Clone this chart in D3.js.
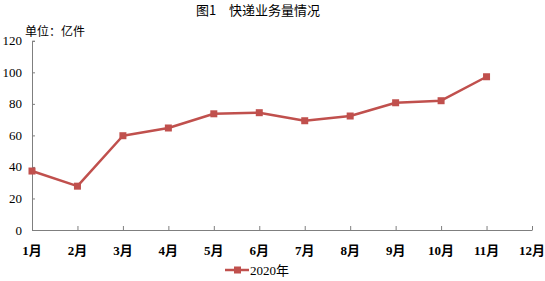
<!DOCTYPE html>
<html>
<head>
<meta charset="utf-8">
<script src="https://cdn.jsdelivr.net/npm/d3@7"></script>
<style>
  body { margin: 0; background: #fff; }
  svg { display: block; }
</style>
</head>
<body>
<svg id="chart" width="545" height="281"></svg>
<script>
// Express delivery volume, 2020, unit: 100 million pieces.
var months = ["1月", "2月", "3月", "4月", "5月", "6月", "7月", "8月", "9月", "10月", "11月", "12月"];
var volume2020 = [37.4, 27.8, 59.8, 64.7, 73.7, 74.4, 69.3, 72.3, 80.7, 82.0, 97.2];
var yTicks = [0, 20, 40, 60, 80, 100, 120];
var seriesName = "2020年";

var svg = d3.select("#chart");
var red = "#c0504d";
var serif = "'Liberation Serif', 'Noto Sans CJK SC', serif";

var x = d3.scalePoint().domain(months).range([32, 532]);
var y = d3.scaleLinear().domain([0, 120]).range([230, 40.8]);

// Title and unit label.
svg.append("text")
    .attr("x", 258).attr("y", 10.5)
    .attr("dy", "0.35em")
    .attr("text-anchor", "middle")
    .style("font-family", "'Noto Sans CJK SC', sans-serif")
    .style("font-size", "13px")
    .text("图1　快递业务量情况");

svg.append("text")
    .attr("x", 25).attr("y", 36)
    .style("font-family", "'Noto Sans CJK SC', serif")
    .style("font-size", "12px")
    .text("单位：亿件");

// Axes: ticks point into the plot.
var yAxis = svg.append("g")
    .attr("transform", "translate(32,0)")
    .call(d3.axisRight(y).tickValues(yTicks).tickSize(3).tickFormat(""));
var xAxis = svg.append("g")
    .attr("transform", "translate(0,230)")
    .call(d3.axisTop(x).tickSize(4).tickFormat("").tickSizeOuter(0));
[yAxis, xAxis].forEach(function (g) {
    g.select(".domain").attr("stroke", "#7f7f7f");
    g.selectAll(".tick line").attr("stroke", "#7f7f7f");
});
// Hide the tick at the origin on the x axis.
xAxis.selectAll(".tick").filter(function (d) { return d === months[0]; }).remove();

svg.append("g").selectAll("text")
    .data(yTicks)
    .join("text")
    .attr("x", 22)
    .attr("y", function (d) { return y(d); })
    .attr("dy", "0.35em")
    .attr("text-anchor", "end")
    .style("font-family", serif)
    .style("font-size", "13px")
    .text(function (d) { return d; });

svg.append("g").selectAll("text")
    .data(months)
    .join("text")
    .attr("x", function (d) { return x(d); })
    .attr("y", 255)
    .attr("text-anchor", "middle")
    .style("font-family", serif)
    .style("font-size", "13px")
    .style("font-weight", "bold")
    .text(function (d) { return d; });

// Series line and square markers.
var pts = volume2020.map(function (v, i) { return [x(months[i]), y(v)]; });
svg.append("path")
    .attr("d", d3.line()(pts))
    .attr("fill", "none")
    .attr("stroke", red)
    .attr("stroke-width", 2.5)
    .attr("stroke-linejoin", "round");
svg.append("g").selectAll("rect")
    .data(pts)
    .join("rect")
    .attr("x", function (p) { return p[0] - 3.5; })
    .attr("y", function (p) { return p[1] - 3.5; })
    .attr("width", 7).attr("height", 7)
    .attr("fill", red);

// Legend.
var legend = svg.append("g").attr("transform", "translate(225,270)");
legend.append("line")
    .attr("x1", 0).attr("x2", 24)
    .attr("stroke", red).attr("stroke-width", 2.5);
legend.append("rect")
    .attr("x", 9).attr("y", -3.5).attr("width", 7).attr("height", 7)
    .attr("fill", red);
legend.append("text")
    .attr("x", 25).attr("y", 0).attr("dy", "0.35em")
    .style("font-family", serif)
    .style("font-size", "13px")
    .text(seriesName);
</script>
</body>
</html>
